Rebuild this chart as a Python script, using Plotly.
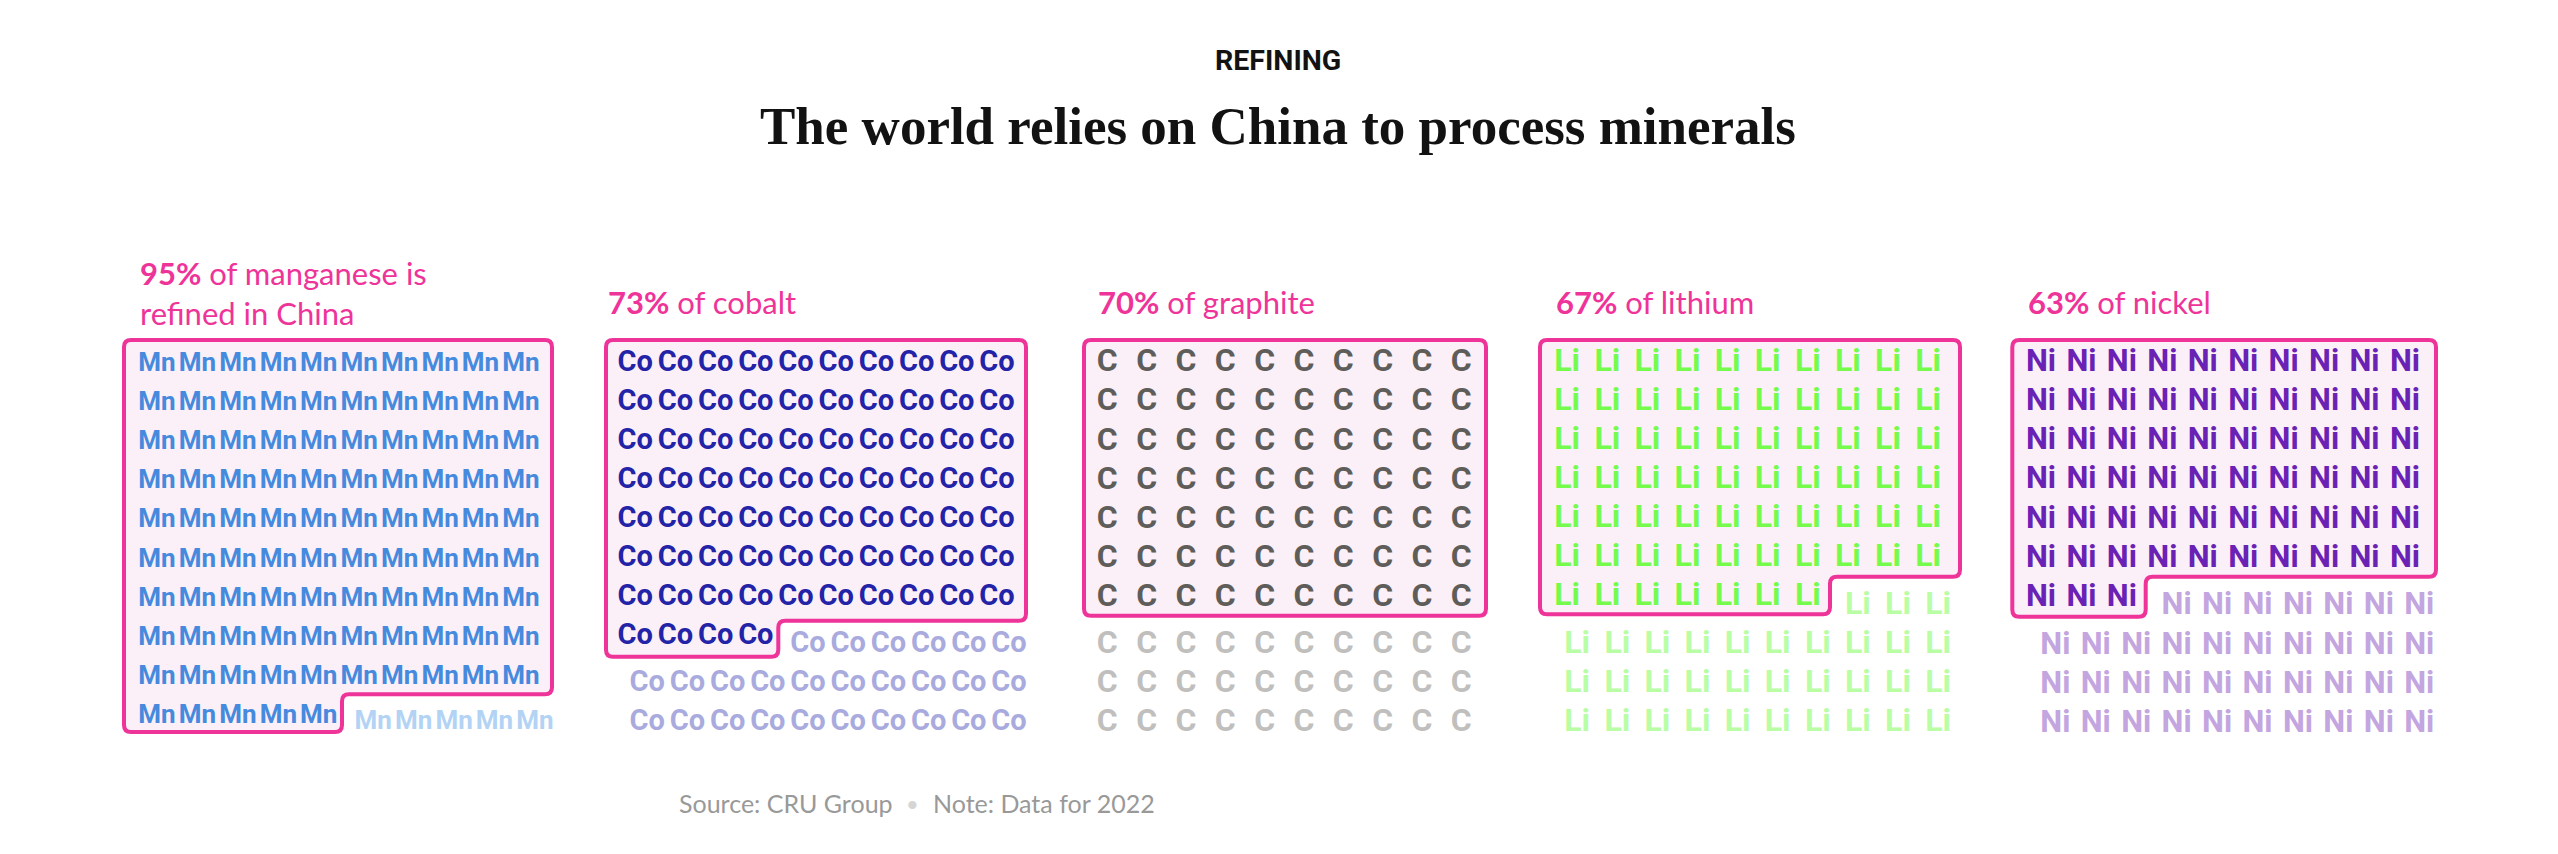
import plotly.graph_objects as go

# ---- data ----
minerals = ["manganese", "cobalt", "graphite", "lithium", "nickel"]
symbols = ["Mn", "Co", "C", "Li", "Ni"]
share_labels = [95, 73, 70, 67, 63]
dark_cells = [95, 74, 70, 67, 63]
total_cells = [100, 100, 100, 100, 100]
label_tails = [" of manganese is<br>refined in China", " of cobalt", " of graphite", " of lithium", " of nickel"]
title = "The world relies on China to process minerals"
kicker = "REFINING"
source = "Source: CRU Group"
note = "Note: Data for 2022"

# ---- styles / layout constants (pixels) ----
W, H = 2558, 854
dark_col = ["#468ade", "#2323a8", "#5f5d5a", "#75fb4c", "#6a22b4"]
light_col = ["#b3d3f5", "#a9abde", "#c0bfbd", "#b9fda4", "#c3a5e0"]
PINK, FILL = "#ee3399", "#fbeff8"
FONT = "Roboto"
LABEL_FONT = "Lato"
glyph_size = [26, 29, 32, 32, 31]
cx0 = [157, 635.2, 1107.3, 1567.2, 2041]
cy0 = [364.2, 363.3, 363.3, 363, 363]
px = [40.44, 40.2, 39.33, 40.1, 40.44]
py = [39.17, 39.05, 39.17, 39.0, 39.2]
off = [(14, 6), (12, 7.7), (0, 7.4), (10, 9.3), (14.3, 8.5)]
box = [(124, 552, 340, 732, 342, 694.3), (606, 1026, 340, 656.7, 778.3, 620.7),
       (1084, 1486, 340, 615.7, None, None), (1540, 1960, 340, 614.3, 1830, 576.7),
       (2012.3, 2436, 340, 616.7, 2145.7, 576.7)]
label_x = [140, 608.3, 1098.3, 1556, 2028]
label_y = [301.5, 301.5, 301.5, 301.5, 301.5]
R = 7
TOP, BOT = 330, 760

fig = go.Figure()
layout_axes, shapes = {}, []


def rpath(pts, fx, fy):
    """Closed polygon with rounded corners as an SVG path in axis units."""
    n = len(pts)
    d = []
    for i in range(n):
        p0, p1, p2 = pts[i - 1], pts[i], pts[(i + 1) % n]
        def toward(a, b):
            dist = ((b[0] - a[0]) ** 2 + (b[1] - a[1]) ** 2) ** .5
            return (a[0] + (b[0] - a[0]) * R / dist, a[1] + (b[1] - a[1]) * R / dist)
        a, b = toward(p1, p0), toward(p1, p2)
        d.append(f"{'M' if i == 0 else 'L'} {fx(a[0])} {fy(a[1])} Q {fx(p1[0])} {fy(p1[1])} {fx(b[0])} {fy(b[1])}")
    return " ".join(d) + " Z"


for i, sym in enumerate(symbols):
    n = i + 1
    sx = "" if n == 1 else str(n)
    L, Rt, T, B, nx, ny = box[i]
    xl, xr = L - 12, Rt + 12
    fx = lambda v, i=i: (v - cx0[i]) / px[i]
    fy = lambda v, i=i: (v - cy0[i]) / py[i]
    layout_axes[f"xaxis{sx}"] = dict(domain=[xl / W, xr / W], range=[fx(xl), fx(xr)], visible=False, fixedrange=True)
    layout_axes[f"yaxis{sx}"] = dict(domain=[1 - BOT / H, 1 - TOP / H], range=[fy(BOT), fy(TOP)], visible=False, fixedrange=True)

    cells = list(range(total_cells[i]))
    dark = cells[:dark_cells[i]]
    light = cells[dark_cells[i]:]
    ox, oy = off[i]
    for subset, col, dx, dy in ((dark, dark_col[i], 0, 0), (light, light_col[i], ox / px[i], oy / py[i])):
        fig.add_trace(go.Scatter(
            x=[c % 10 + dx for c in subset], y=[c // 10 + dy for c in subset], text=[sym] * len(subset),
            mode="text", textposition="middle center", cliponaxis=False, showlegend=False,
            textfont=dict(family=FONT, size=glyph_size[i], color=col, weight="bold"),
            xaxis=f"x{sx}", yaxis=f"y{sx}", hoverinfo="skip"))

    if nx is None:
        pts = [(L, T), (Rt, T), (Rt, B), (L, B)]
    else:
        pts = [(L, T), (Rt, T), (Rt, ny), (nx, ny), (nx, B), (L, B)]
    shapes.append(dict(type="path", xref=f"x{sx}", yref=f"y{sx}", path=rpath(pts, fx, fy),
                       fillcolor=FILL, line=dict(color=PINK, width=4), layer="below"))


def page_text(text, x, y, size, color, family, anchor="left", va="middle"):
    return dict(text=text, x=x / W, y=1 - y / H, xref="paper", yref="paper", showarrow=False,
                xanchor=anchor, yanchor=va, align="left",
                font=dict(size=size, color=color, family=family), borderpad=0, borderwidth=0)


ann = [
    page_text(f"<b>{kicker}</b>", 1278, 61, 28.5, "#121212", FONT, "center"),
    page_text(f"<b>{title}</b>", 1278, 125.5, 53, "#121212", "Liberation Serif", "center"),
    page_text(source, 679, 803, 25, "#999999", LABEL_FONT),
    page_text("\u2022", 912, 803, 22, "#d5d5d5", LABEL_FONT, "center"),
    page_text(note, 933, 803, 25, "#999999", LABEL_FONT),
]
for i in range(5):
    txt = f"<b>{share_labels[i]}%</b>{label_tails[i]}"
    ann.append(page_text(txt, label_x[i], label_y[i], 31, PINK, LABEL_FONT, "left", "middle"))
ann[5]["y"] = 1 - 293 / H

fig.update_layout(width=W, height=H, margin=dict(l=0, r=0, t=0, b=0), autosize=False,
                  paper_bgcolor="white", plot_bgcolor="rgba(0,0,0,0)", showlegend=False,
                  annotations=ann, shapes=shapes, **layout_axes)
fig.write_html("out.html", config={"displayModeBar": False},
               post_script="document.body.style.margin='0';document.documentElement.style.overflow='hidden';")
